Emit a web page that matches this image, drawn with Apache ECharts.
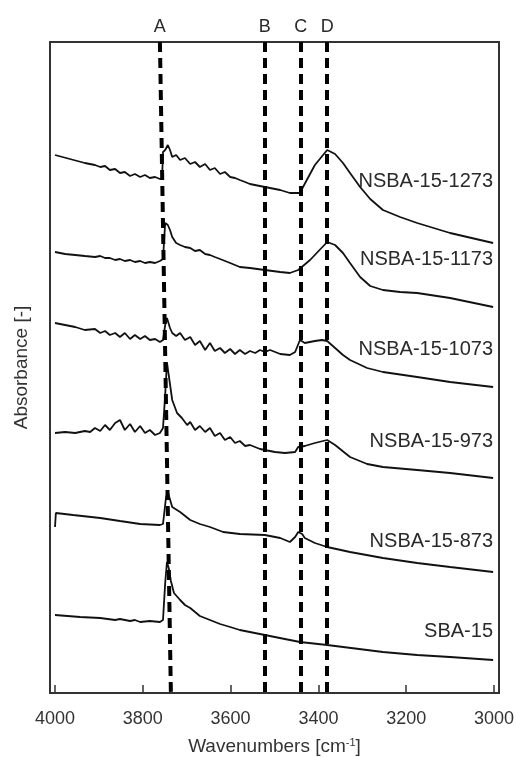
<!DOCTYPE html>
<html>
<head>
<meta charset="utf-8">
<script src="https://cdn.jsdelivr.net/npm/echarts@6/dist/echarts.min.js"></script>
<style>
  html, body { margin: 0; padding: 0; background: #fff; }
  #chart { width: 516px; height: 757px; }
</style>
</head>
<body>
<div id="chart"></div>
<script>
// ---- data (wavenumber [cm-1], absorbance [-]) ----
const sampleNames = ['NSBA-15-1273', 'NSBA-15-1173', 'NSBA-15-1073', 'NSBA-15-973', 'NSBA-15-873', 'SBA-15'];

const nsba1273 = [[4000,5.38],[3966,5.34],[3932,5.30],[3909,5.28],[3897,5.26],[3886,5.27],[3875,5.23],[3863,5.24],[3852,5.20],[3841,5.21],[3829,5.17],[3818,5.19],[3806,5.16],[3795,5.18],[3784,5.15],[3772,5.16],[3761,5.14],[3756,5.15],[3754,5.41],[3749,5.43],[3743,5.48],[3738,5.43],[3733,5.36],[3724,5.38],[3715,5.33],[3704,5.35],[3692,5.29],[3681,5.31],[3670,5.26],[3658,5.29],[3647,5.23],[3636,5.25],[3624,5.19],[3613,5.21],[3601,5.16],[3590,5.15],[3579,5.13],[3567,5.11],[3556,5.09],[3522,5.06],[3487,5.03],[3465,5.00],[3442,5.00],[3435,5.06],[3408,5.28],[3380,5.43],[3362,5.39],[3344,5.30],[3328,5.20],[3305,5.06],[3282,4.94],[3253,4.83],[3214,4.76],[3175,4.70],[3100,4.60],[3002,4.50]];

const nsba1173 = [[4000,4.41],[3977,4.39],[3954,4.38],[3932,4.37],[3909,4.36],[3897,4.37],[3886,4.35],[3875,4.35],[3863,4.33],[3852,4.34],[3841,4.32],[3829,4.33],[3818,4.31],[3806,4.32],[3795,4.30],[3784,4.31],[3772,4.30],[3761,4.32],[3754,4.34],[3749,4.70],[3743,4.68],[3738,4.63],[3733,4.56],[3724,4.50],[3715,4.48],[3704,4.46],[3692,4.45],[3681,4.42],[3670,4.43],[3658,4.39],[3647,4.38],[3636,4.36],[3624,4.34],[3601,4.30],[3579,4.26],[3556,4.25],[3522,4.23],[3487,4.21],[3465,4.20],[3446,4.23],[3419,4.33],[3380,4.51],[3362,4.48],[3344,4.40],[3328,4.30],[3305,4.16],[3282,4.07],[3253,4.03],[3214,4.01],[3175,4.00],[3100,3.95],[3002,3.86]];

const nsba1073 = [[4000,3.70],[3977,3.68],[3954,3.66],[3932,3.63],[3909,3.64],[3897,3.60],[3886,3.62],[3875,3.58],[3863,3.60],[3852,3.56],[3841,3.60],[3829,3.54],[3818,3.58],[3806,3.54],[3795,3.57],[3784,3.53],[3772,3.54],[3761,3.51],[3754,3.53],[3749,3.68],[3745,3.75],[3738,3.65],[3733,3.60],[3724,3.57],[3715,3.60],[3704,3.53],[3692,3.56],[3681,3.48],[3670,3.52],[3658,3.43],[3647,3.50],[3636,3.42],[3624,3.45],[3613,3.40],[3601,3.44],[3590,3.39],[3579,3.43],[3567,3.39],[3556,3.42],[3544,3.40],[3533,3.43],[3522,3.41],[3510,3.43],[3487,3.39],[3465,3.38],[3453,3.41],[3442,3.53],[3431,3.50],[3408,3.52],[3392,3.53],[3380,3.52],[3362,3.45],[3344,3.38],[3328,3.33],[3289,3.25],[3253,3.21],[3175,3.16],[3100,3.11],[3002,3.06]];

const nsba973 = [[4000,2.60],[3977,2.61],[3954,2.60],[3932,2.62],[3920,2.61],[3909,2.65],[3897,2.62],[3886,2.68],[3875,2.63],[3863,2.70],[3852,2.73],[3841,2.63],[3829,2.69],[3818,2.61],[3806,2.67],[3795,2.60],[3784,2.63],[3772,2.58],[3761,2.60],[3754,2.65],[3749,2.98],[3745,3.31],[3741,3.18],[3733,2.93],[3722,2.80],[3711,2.75],[3699,2.68],[3692,2.71],[3681,2.63],[3670,2.67],[3658,2.61],[3647,2.65],[3636,2.57],[3624,2.60],[3613,2.53],[3601,2.56],[3590,2.50],[3579,2.52],[3567,2.47],[3556,2.48],[3533,2.44],[3522,2.43],[3499,2.41],[3476,2.40],[3453,2.41],[3446,2.46],[3431,2.47],[3408,2.50],[3380,2.53],[3362,2.48],[3328,2.36],[3289,2.29],[3253,2.26],[3175,2.23],[3100,2.20],[3002,2.15]];

const nsba873 = [[4000,1.66],[3998,1.80],[3959,1.78],[3897,1.75],[3852,1.72],[3806,1.69],[3761,1.68],[3754,1.69],[3747,1.96],[3743,2.01],[3733,1.86],[3715,1.81],[3692,1.73],[3670,1.69],[3647,1.66],[3617,1.61],[3579,1.59],[3522,1.58],[3487,1.55],[3465,1.51],[3453,1.56],[3446,1.61],[3437,1.59],[3431,1.55],[3408,1.50],[3380,1.46],[3328,1.41],[3253,1.35],[3175,1.30],[3100,1.26],[3002,1.21]];

const sba15 = [[4000,0.78],[3943,0.76],[3897,0.75],[3863,0.73],[3852,0.74],[3829,0.72],[3818,0.73],[3806,0.71],[3784,0.72],[3761,0.71],[3754,0.73],[3749,1.10],[3745,1.31],[3741,1.25],[3736,1.12],[3729,1.00],[3715,0.93],[3704,0.88],[3692,0.85],[3670,0.77],[3647,0.73],[3624,0.69],[3601,0.66],[3579,0.63],[3522,0.58],[3465,0.53],[3442,0.51],[3380,0.48],[3253,0.41],[3175,0.38],[3100,0.36],[3002,0.33]];

const seriesValues = [nsba1273, nsba1173, nsba1073, nsba973, nsba873, sba15];
const labelLevels = [5.12, 4.34, 3.44, 2.52, 1.52, 0.62];

const bandNames = ['A', 'B', 'C', 'D'];
const bandTop = [3761, 3522, 3440, 3380];
const bandBottom = [3736, 3522, 3440, 3380];

const xMin = 3000, xMax = 4000, xStep = 200;
const yMin = 0, yMax = 6.51;

// ---- chart ----
const FONT = 'Liberation Sans, Arial, Helvetica, sans-serif';
const chart = echarts.init(document.getElementById('chart'), null, { renderer: 'canvas' });

const series = seriesValues.map((vals, i) => ({
  type: 'line',
  name: sampleNames[i],
  xAxisIndex: 1, yAxisIndex: 1,
  data: vals,
  showSymbol: false,
  symbol: 'none',
  lineStyle: { color: '#111', width: 1.8 },
  z: 3,
  markPoint: {
    symbol: 'circle', symbolSize: 0,
    label: {
      show: true, position: 'left', distance: 1,
      formatter: sampleNames[i],
      color: '#2a2a2a', fontSize: 20, fontFamily: FONT
    },
    data: [{ coord: [xMin, labelLevels[i]] }]
  }
}));

series.push({
  type: 'line',
  name: 'bands',
  xAxisIndex: 1, yAxisIndex: 1,
  data: [],
  z: 4,
  markLine: {
    silent: true,
    symbol: ['none', 'none'],
    lineStyle: { color: '#000', width: 4, type: [10, 6] },
    label: {
      show: true, position: 'start', distance: 6,
      formatter: '{b}', color: '#2a2a2a', fontSize: 18, fontFamily: FONT
    },
    data: bandNames.map((n, i) => [
      { name: n, coord: [bandTop[i], yMax] },
      { coord: [bandBottom[i], yMin] }
    ])
  }
});

chart.setOption({
  animation: false,
  backgroundColor: '#fff',
  grid: [
    { left: 50, right: 17, top: 42, bottom: 64, show: true, borderColor: '#333', borderWidth: 2, backgroundColor: 'transparent', outerBoundsMode: 'none' },
    { left: 55, right: 22, top: 42, bottom: 64, outerBoundsMode: 'none' }
  ],
  xAxis: [
    { gridIndex: 0, type: 'value', show: false, min: 0, max: 1 },
    {
      gridIndex: 1, type: 'value', inverse: true,
      min: xMin, max: xMax, interval: xStep,
      axisLine: { show: false },
      axisTick: { show: true, inside: true, length: 8, lineStyle: { color: '#333', width: 1.5 } },
      splitLine: { show: false },
      axisLabel: { color: '#333', fontSize: 18, fontFamily: FONT, margin: 17, formatter: v => String(v) },
      name: '{a|Wavenumbers [cm}{s|-1}{a|]}',
      nameLocation: 'middle', nameGap: 44,
      nameTextStyle: {
        rich: {
          a: { fontSize: 19, color: '#333', fontFamily: FONT },
          s: { fontSize: 11, color: '#333', fontFamily: FONT, verticalAlign: 'top', padding: [0, 0, 9, 0] }
        }
      }
    }
  ],
  yAxis: [
    { gridIndex: 0, type: 'value', show: false, min: 0, max: 1 },
    {
      gridIndex: 1, type: 'value', min: yMin, max: yMax,
      axisLine: { show: false }, axisTick: { show: false }, axisLabel: { show: false },
      splitLine: { show: false },
      name: 'Absorbance [-]', nameLocation: 'middle', nameGap: 24,
      nameTextStyle: { fontSize: 19, color: '#333', fontFamily: FONT }
    }
  ],
  series: series
});
</script>
</body>
</html>
